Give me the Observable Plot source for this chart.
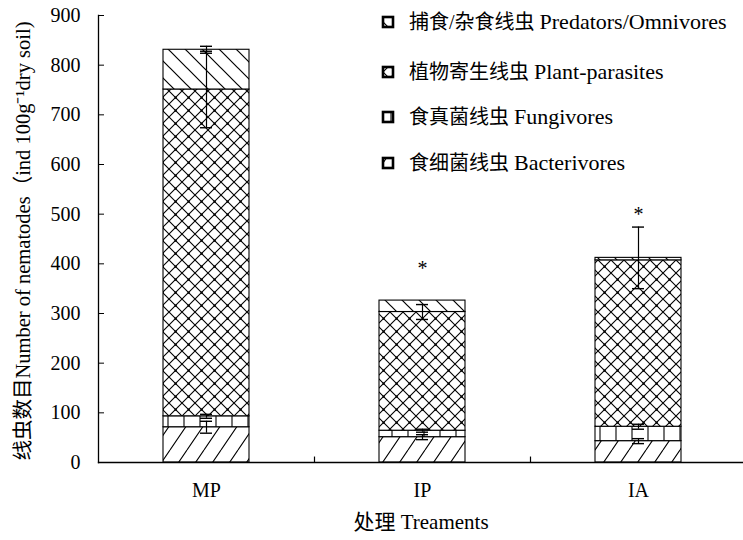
<!DOCTYPE html>
<html><head><meta charset="utf-8">
<script src="https://cdn.jsdelivr.net/npm/d3@7"></script>
<script src="https://cdn.jsdelivr.net/npm/@observablehq/plot@0.6"></script>
<style>
body{margin:0;background:#fff;}
#chart svg{display:block;}
</style></head><body><div id="chart"></div>
<script>
// ---- data ----
const categories = ["MP", "IP", "IA"];
const groupKeys = ["bact", "fungi", "plant", "pred"];
const groupLabelsZh = ["食细菌线虫", "食真菌线虫", "植物寄生线虫", "捕食/杂食线虫"];
const groupLabelsEn = ["Bacterivores", "Fungivores", "Plant-parasites", "Predators/Omnivores"];
const bacterivores = [71, 51, 43];
const fungivores = [22, 13, 29];
const plantParasites = [658, 239, 335];
const predators = [80, 23, 5];
const bacterivoresErr = [12, 5, 5];
const fungivoresErr = [4, 3, 5];
const plantParasitesErr = [77, 15, 0];
const predatorsErr = [7, 0, 62];
const significance = ["", "*", "*"];
const significanceAt = [null, 390, 500];
const yTicks = [0, 100, 200, 300, 400, 500, 600, 700, 800, 900];
const yTitle = "线虫数目Number of nematodes（ind 100g⁻¹dry soil)";
const xTitle = "处理 Treaments";

// ---- build table ----
const layerValues = [bacterivores, fungivores, plantParasites, predators];
const layerErrs = [bacterivoresErr, fungivoresErr, plantParasitesErr, predatorsErr];
const rows = [];
categories.forEach((c, i) => {
  let base = 0;
  groupKeys.forEach((k, j) => {
    const v = layerValues[j][i];
    rows.push({cat: c, key: k, y1: base, y2: base + v, err: layerErrs[j][i]});
    base += v;
  });
});
const errRows = rows.filter(d => d.err > 0);
const sigRows = categories.map((c, i) => ({cat: c, label: significance[i], y: significanceAt[i]})).filter(d => d.label);

const FONT = "'Liberation Serif','Times New Roman','Noto Sans CJK SC',serif";

const marks = [];
groupKeys.forEach(k => {
  marks.push(Plot.barY(rows.filter(d => d.key === k), {
    x: "cat", y1: "y1", y2: "y2", fill: `url(#pat-${k})`, stroke: "black", strokeWidth: 1.1
  }));
});
marks.push(
  Plot.ruleX(errRows, {x: "cat", y1: d => d.y2 - d.err, y2: d => d.y2 + d.err, stroke: "black", strokeWidth: 1.2}),
  Plot.tickY(errRows, {x: "cat", y: d => d.y2 + d.err, insetLeft: 37, insetRight: 37, stroke: "black", strokeWidth: 1.4}),
  Plot.tickY(errRows, {x: "cat", y: d => d.y2 - d.err, insetLeft: 37, insetRight: 37, stroke: "black", strokeWidth: 1.4}),
  Plot.text(sigRows, {x: "cat", y: "y", text: "label", fontSize: 20, fill: "black"}),
  Plot.frame({anchor: "left", stroke: "black", strokeWidth: 1.3}),
  Plot.frame({anchor: "bottom", stroke: "black", strokeWidth: 1.3}),
  Plot.axisY(yTicks, {tickSize: -6, tickPadding: 24, fontSize: 20, label: null, stroke: "black"}),
  Plot.ruleX(categories.slice(0, -1), {x: d => d, dx: 108, y1: 0, y2: 11, stroke: "black", strokeWidth: 1.2}),
  Plot.axisX({tickSize: 0, tickPadding: 20, fontSize: 20, label: null}),
  Plot.text([xTitle], {frameAnchor: "bottom", dy: 66, fontSize: 21, fill: "black"}),
  Plot.text([yTitle], {frameAnchor: "left", textAnchor: "middle", dx: -75, dy: 2, rotate: -90, fontSize: 20.5, fill: "black"})
);

const chart = Plot.plot({
  width: 743, height: 540,
  marginTop: 15, marginBottom: 78, marginLeft: 98, marginRight: 0,
  x: {domain: categories, range: [98, 746], paddingInner: 0.6, paddingOuter: 0.3},
  y: {domain: [0, 900]},
  style: {fontFamily: FONT, fontSize: "19px", color: "black", background: "white", overflow: "hidden"},
  marks
});

// ---- hatch patterns ----
const svg = d3.select(chart);
const defs = svg.insert("defs", ":first-child");
function pat(id, w, h, draw) {
  const p = defs.append("pattern").attr("id", id).attr("patternUnits", "userSpaceOnUse")
    .attr("width", w).attr("height", h);
  p.append("rect").attr("width", w).attr("height", h).attr("fill", "white");
  draw(p);
}
pat("pat-bact", 17, 25, p => p.append("path").attr("d", "M0,25L17,0M-17,25L0,0M17,25L34,0").attr("stroke", "black").attr("stroke-width", 1.1));
pat("pat-pred", 17, 17, p => p.append("path").attr("d", "M0,0L17,17M-4,13L4,21M13,-4L21,4").attr("stroke", "black").attr("stroke-width", 1.2));
pat("pat-fungi", 16, 16, p => p.append("path").attr("d", "M8,0V16").attr("stroke", "black").attr("stroke-width", 1.1));
pat("pat-plant", 13, 13, p => {
  p.append("path").attr("d", "M0,0L13,13M13,0L0,13").attr("stroke", "black").attr("stroke-width", 1.1);
  p.append("rect").attr("x", 5.5).attr("y", 5.5).attr("width", 2.2).attr("height", 2.2).attr("fill", "black");
});

// ---- legend (inside plot, top-right) ----
const legend = svg.append("g").attr("font-family", FONT).attr("text-anchor", "start");
const order = [3, 2, 1, 0];
const legendY = [22, 72, 117, 163];
order.forEach((j, i) => {
  const g = legend.append("g").attr("transform", `translate(383,${legendY[i]})`);
  g.append("rect").attr("x", 0).attr("y", -5).attr("width", 10).attr("height", 10)
    .attr("fill", `url(#pat-${groupKeys[j]})`).attr("stroke", "black").attr("stroke-width", 2.6);
  const t = g.append("text").attr("x", 26).attr("y", 0).attr("dy", "0.35em").attr("text-anchor", "start").attr("fill", "black");
  t.append("tspan").attr("font-size", 20).text(groupLabelsZh[j] + " ");
  t.append("tspan").attr("font-size", 22).text(groupLabelsEn[j]);
});

document.getElementById("chart").appendChild(chart);
</script></body></html>
